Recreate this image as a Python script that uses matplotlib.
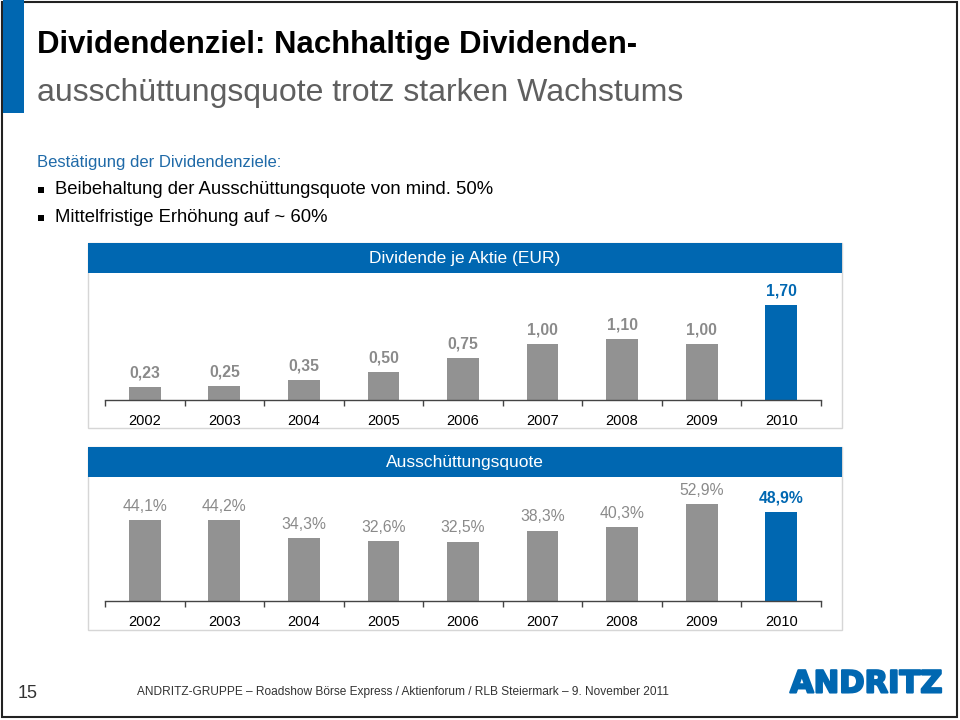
import matplotlib
matplotlib.use("Agg")
import matplotlib.pyplot as plt
from matplotlib.patches import Rectangle
import matplotlib.patheffects as pe

plt.rcParams['font.family'] = ['Liberation Sans', 'DejaVu Sans']

# ---- data ----
years = ["2002", "2003", "2004", "2005", "2006", "2007", "2008", "2009", "2010"]
dividend = [0.23, 0.25, 0.35, 0.50, 0.75, 1.00, 1.10, 1.00, 1.70]
dividend_labels = ["0,23", "0,25", "0,35", "0,50", "0,75", "1,00", "1,10", "1,00", "1,70"]
payout = [44.1, 44.2, 34.3, 32.6, 32.5, 38.3, 40.3, 52.9, 48.9]
payout_labels = ["44,1%", "44,2%", "34,3%", "32,6%", "32,5%", "38,3%", "40,3%", "52,9%", "48,9%"]

title_line1 = "Dividendenziel: Nachhaltige Dividenden-"
title_line2 = "ausschüttungsquote trotz starken Wachstums"
subhead = "Bestätigung der Dividendenziele:"
bullets = ["Beibehaltung der Ausschüttungsquote von mind. 50%",
           "Mittelfristige Erhöhung auf ~ 60%"]
chart1_title = "Dividende je Aktie (EUR)"
chart2_title = "Ausschüttungsquote"
footer_page = "15"
footer_text = "ANDRITZ-GRUPPE – Roadshow Börse Express / Aktienforum / RLB Steiermark – 9. November 2011"
logo_text = "ANDRITZ"

BLUE = "#0067b1"
GRAY_BAR = "#929292"
GRAY_TXT = "#8a8a8a"

W, H = 960, 720
fig = plt.figure(figsize=(9.6, 7.2), dpi=100)
fig.patch.set_facecolor("white")


def frect(l, t, r, b):
    return [l / W, 1 - b / H, (r - l) / W, (b - t) / H]


def fx(x):
    return x / W


def fy(y):
    return 1 - y / H


# slide frame
fig.add_artist(Rectangle((fx(2), fy(717)), fx(955), (715) / H, transform=fig.transFigure,
                         fill=False, edgecolor="#222222", linewidth=1.5, zorder=-1))
# left blue bar
fig.add_artist(Rectangle((fx(3), fy(113)), fx(21), 113 / H, transform=fig.transFigure,
                         facecolor=BLUE, edgecolor="none", zorder=-1))

# titles
fig.text(fx(37), fy(45), title_line1, fontsize=22.4, fontweight="bold", color="black",
         va="center", ha="left")
fig.text(fx(37), fy(93), title_line2, fontsize=23, color="#5f5f5f", va="center", ha="left")

fig.text(fx(37), fy(163), subhead, fontsize=12, color="#1f6aa8", va="center", ha="left")
for i, btxt in enumerate(bullets):
    y = 190 + i * 28
    fig.add_artist(Rectangle((fx(38), fy(y + 3)), fx(6), 6 / H, transform=fig.transFigure,
                             facecolor="black", edgecolor="none"))
    fig.text(fx(55), fy(y), btxt, fontsize=13.3, color="black", va="center", ha="left")


def panel(top_header, bottom_header, bottom_panel, title):
    fig.add_artist(Rectangle((fx(88), fy(bottom_panel)), fx(842 - 88),
                             (bottom_panel - top_header) / H, transform=fig.transFigure,
                             facecolor="white", edgecolor="#d6d6d6", linewidth=1.0,
                             zorder=-1))
    fig.add_artist(Rectangle((fx(88), fy(bottom_header)), fx(842 - 88),
                             (bottom_header - top_header) / H, transform=fig.transFigure,
                             facecolor=BLUE, edgecolor="none", zorder=-0.5))
    fig.text(fx(465), fy((top_header + bottom_header) / 2), title, fontsize=12.5,
             color="white", ha="center", va="center")


def bar_chart(values, labels, ax_top, ax_bottom, px_per_unit, bold_gray):
    ax = fig.add_axes(frect(105, ax_top, 821, ax_bottom))
    ax.set_zorder(2)
    ax.set_facecolor("none")
    x = list(range(len(values)))
    colors = [GRAY_BAR] * (len(values) - 1) + [BLUE]
    ax.bar(x, values, width=0.4, color=colors, zorder=2)
    ax.set_xlim(-0.5, len(values) - 0.5)
    ax.set_ylim(0, (ax_bottom - ax_top) / px_per_unit)
    for s in ["top", "right", "left"]:
        ax.spines[s].set_visible(False)
    ax.spines["bottom"].set_color("#444444")
    ax.spines["bottom"].set_linewidth(1.0)
    ax.set_yticks([])
    ax.set_xticks(x, years)
    ax.tick_params(axis="x", which="major", length=0, pad=10, labelsize=10.5,
                   labelcolor="black")
    ax.set_xticks([i - 0.5 for i in range(len(values) + 1)], minor=True)
    ax.tick_params(axis="x", which="minor", length=4, width=1.0, color="#444444",
                   direction="out")
    for i, (v, lab) in enumerate(zip(values, labels)):
        last = i == len(values) - 1
        ax.annotate(lab, (i, v), xytext=(0, 14), textcoords="offset pixels",
                    ha="center", va="center", fontsize=11.3,
                    fontweight="bold" if (last or bold_gray) else "normal",
                    color=BLUE if last else GRAY_TXT)
    return ax


panel(243, 273, 428, chart1_title)
bar_chart(dividend, dividend_labels, 278, 400, 55.9, True)

panel(447, 477, 630, chart2_title)
bar_chart(payout, payout_labels, 482, 601, 1.83, False)

# footer
fig.text(fx(18), fy(693), footer_page, fontsize=13, color="#333333", ha="left", va="center")
fig.text(fx(137), fy(692), footer_text, fontsize=8.6, color="#333333", ha="left", va="center")
fig.text(fx(866), fy(684), logo_text, fontsize=22, fontweight="heavy",
         color=BLUE, ha="center", va="center", family="DejaVu Sans",
         path_effects=[pe.withStroke(linewidth=1.5, foreground=BLUE)])

fig.savefig("out.png", dpi=100, facecolor="white")
